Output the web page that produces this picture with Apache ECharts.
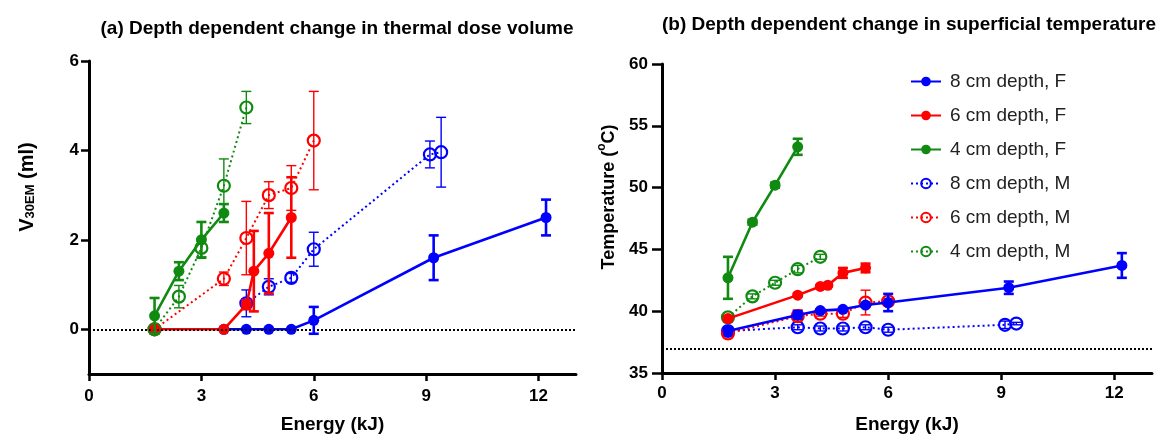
<!DOCTYPE html>
<html><head><meta charset="utf-8">
<script src="https://cdn.jsdelivr.net/npm/echarts@6/dist/echarts.min.js"></script>
<style>html,body{margin:0;padding:0;background:#fff}#c{width:1160px;height:439px}</style>
</head><body><div id="c"></div>
<script>
// ---------- Series names ----------
const names = ['8 cm depth, F', '6 cm depth, F', '4 cm depth, F', '8 cm depth, M', '6 cm depth, M', '4 cm depth, M'];

// ---------- Panel (a): V30EM (ml) vs Energy (kJ) ----------
const a8F_x = [3.6, 4.2, 4.8, 5.4, 6.0, 9.2, 12.2];
const a8F_y = [0, 0, 0, 0, 0.2, 1.6, 2.5];
const a8F_e = [0, 0, 0, 0, 0.3, 0.5, 0.4];
const a6F_x = [1.75, 3.6, 4.2, 4.4, 4.8, 5.4];
const a6F_y = [0, 0, 0.55, 1.3, 1.7, 2.5];
const a6F_e = [0, 0, 0.1, 0.9, 0.9, 0.9];
const a4F_x = [1.75, 2.4, 3.0, 3.6];
const a4F_y = [0.3, 1.3, 2.0, 2.6];
const a4F_e = [0.4, 0.2, 0.4, 0.2];
const a8M_x = [4.2, 4.8, 5.4, 6.0, 9.1, 9.4];
const a8M_y = [0.58, 0.95, 1.15, 1.79, 3.91, 3.96];
const a8M_e = [0.3, 0.18, 0.1, 0.38, 0.3, 0.78];
const a6M_x = [1.75, 3.6, 4.2, 4.8, 5.4, 6.0];
const a6M_y = [0, 1.13, 2.04, 3.0, 3.16, 4.22];
const a6M_e = [0, 0.15, 0.82, 0.3, 0.5, 1.1];
const a4M_x = [1.75, 2.4, 3.0, 3.6, 4.2];
const a4M_y = [0, 0.73, 1.82, 3.21, 4.96];
const a4M_e = [0.05, 0.25, 0.2, 0.6, 0.36];
const aRef = 0;            // dotted reference line (ml)
const aYTicks = [0, 2, 4, 6];

// ---------- Panel (b): Temperature (ºC) vs Energy (kJ) ----------
const b8F_x = [1.75, 3.6, 4.2, 4.8, 5.4, 6.0, 9.2, 12.2];
const b8F_y = [38.4, 39.7, 40.05, 40.15, 40.5, 40.7, 41.9, 43.7];
const b8F_e = [0.2, 0.3, 0.1, 0.1, 0.1, 0.7, 0.5, 1.0];
const b6F_x = [1.75, 3.6, 4.2, 4.4, 4.8, 5.4];
const b6F_y = [39.4, 41.3, 42.0, 42.1, 43.1, 43.5];
const b6F_e = [0.2, 0.1, 0.1, 0.1, 0.4, 0.35];
const b4F_x = [1.75, 2.4, 3.0, 3.6];
const b4F_y = [42.7, 47.2, 50.2, 53.3];
const b4F_e = [1.7, 0.2, 0.2, 0.65];
const b8M_x = [1.75, 3.6, 4.2, 4.8, 5.4, 6.0, 9.1, 9.4];
const b8M_y = [38.4, 38.7, 38.6, 38.6, 38.7, 38.5, 38.9, 39.0];
const b8M_e = [0.1, 0.2, 0.2, 0.2, 0.2, 0.2, 0.3, 0.1];
const b6M_x = [1.75, 3.6, 4.2, 4.8, 5.4, 6.0];
const b6M_y = [38.2, 39.6, 39.8, 39.8, 40.7, 40.8];
const b6M_e = [0.1, 0.5, 0.2, 0.3, 1.0, 0.2];
const b4M_x = [1.75, 2.4, 3.0, 3.6, 4.2];
const b4M_y = [39.5, 41.2, 42.3, 43.4, 44.4];
const b4M_e = [0.1, 0.2, 0.2, 0.3, 0.2];
const bRef = 37;           // dotted reference line (ºC)

const xMax = 13;

// ---------- styling ----------
const FONT = 'Liberation Sans, Arial, Helvetica, sans-serif';
const BLUE = '#0000ff', RED = '#ff0000', GREEN = '#118a11';
const colorOf = {'8': BLUE, '6': RED, '4': GREEN};

function lineSeries(name, xs, ys, idx, filled) {
  const c = colorOf[name[0]];
  return {
    type: 'line', name: name, xAxisIndex: idx, yAxisIndex: idx,
    data: xs.map((x, i) => [x, ys[i]]),
    symbol: 'circle', symbolSize: filled ? 11 : 12,
    itemStyle: filled ? {color: c} : {color: 'rgba(255,255,255,0)', borderColor: c, borderWidth: 2.2},
    lineStyle: {color: c, width: filled ? 2.6 : 2, type: filled ? 'solid' : [2, 3]},
    color: c, z: filled ? 4 : 3, animation: false
  };
}
function errSeries(name, xs, ys, es, idx, filled) {
  const c = colorOf[name[0]];
  const lw = filled ? 2.6 : 1.4;
  return {
    type: 'custom', name: name + ' (SD)', xAxisIndex: idx, yAxisIndex: idx,
    data: xs.map((x, i) => [x, ys[i], es[i]]),
    encode: {x: 0, y: 1}, silent: true, z: filled ? 5 : 3, animation: false,
    renderItem: function (params, api) {
      const x = api.value(0), y = api.value(1), e = api.value(2);
      if (!e) return {type: 'group', children: []};
      const t = api.coord([x, y + e]), b = api.coord([x, y - e]);
      const w = 5;
      const st = {stroke: c, lineWidth: lw};
      return {type: 'group', children: [
        {type: 'line', shape: {x1: t[0], y1: t[1], x2: b[0], y2: b[1]}, style: st},
        {type: 'line', shape: {x1: t[0] - w, y1: t[1], x2: t[0] + w, y2: t[1]}, style: st},
        {type: 'line', shape: {x1: b[0] - w, y1: b[1], x2: b[0] + w, y2: b[1]}, style: st}
      ]};
    }
  };
}
function refSeries(idx, val) {
  return {
    type: 'line', name: 'ref' + idx, xAxisIndex: idx, yAxisIndex: idx, data: [],
    markLine: {silent: true, symbol: 'none', label: {show: false},
      lineStyle: {color: '#000', type: [2, 2], width: 2}, data: [{yAxis: val}], animation: false}
  };
}

const panels = [
  [[a8F_x, a8F_y, a8F_e], [a6F_x, a6F_y, a6F_e], [a4F_x, a4F_y, a4F_e],
   [a8M_x, a8M_y, a8M_e], [a6M_x, a6M_y, a6M_e], [a4M_x, a4M_y, a4M_e]],
  [[b8F_x, b8F_y, b8F_e], [b6F_x, b6F_y, b6F_e], [b4F_x, b4F_y, b4F_e],
   [b8M_x, b8M_y, b8M_e], [b6M_x, b6M_y, b6M_e], [b4M_x, b4M_y, b4M_e]]
];

const series = [refSeries(0, aRef), refSeries(1, bRef)];
panels.forEach((p, idx) => {
  [3, 4, 5, 0, 1, 2].forEach(k => {
    series.push(lineSeries(names[k], p[k][0], p[k][1], idx, k < 3));
  });
  [3, 4, 5, 0, 1, 2].forEach(k => {
    series.push(errSeries(names[k], p[k][0], p[k][1], p[k][2], idx, k < 3));
  });
});

const axisLineStyle = {show: true, lineStyle: {color: '#000', width: 3}};
const labelStyle = {color: '#000', fontSize: 17, fontWeight: 'bold', fontFamily: FONT};

function xAxis(idx, margin) {
  return {
    type: 'value', gridIndex: idx, min: 0, max: xMax, interval: 3,
    axisLine: Object.assign({onZero: false}, axisLineStyle),
    axisTick: {show: true, length: 7, lineStyle: {color: '#000', width: 2.5}},
    axisLabel: Object.assign({margin: margin, showMaxLabel: false}, labelStyle),
    splitLine: {show: false},
    name: 'Energy (kJ)', nameLocation: 'middle', nameGap: idx === 0 ? 41 : 42,
    nameTextStyle: {color: '#000', fontSize: 19, fontWeight: 'bold', fontFamily: FONT}
  };
}

const option = {
  backgroundColor: '#fff',
  animation: false,
  title: [
    {text: '(a) Depth dependent change in thermal dose volume', left: 332, top: 14, textAlign: 'center',
     textStyle: {fontSize: 19, fontWeight: 'bold', color: '#000', fontFamily: FONT}},
    {text: '(b) Depth dependent change in superficial temperature', left: 904, top: 10, textAlign: 'center',
     textStyle: {fontSize: 19, fontWeight: 'bold', color: '#000', fontFamily: FONT}}
  ],
  grid: [
    {left: 89, right: 584, top: 61, bottom: 64},
    {left: 662, right: 8, top: 64, bottom: 60}
  ],
  xAxis: [xAxis(0, 14), xAxis(1, 12)],
  yAxis: [
    {type: 'value', gridIndex: 0, min: -1, max: 6,
     axisLine: Object.assign({onZero: false}, axisLineStyle),
     axisTick: {show: true, length: 8, lineStyle: {color: '#000', width: 2.5}, customValues: aYTicks},
     axisLabel: Object.assign({margin: 10, customValues: aYTicks}, labelStyle),
     splitLine: {show: false}},
    {type: 'value', gridIndex: 1, min: 35, max: 60, interval: 5,
     axisLine: Object.assign({onZero: false}, axisLineStyle),
     axisTick: {show: true, length: 10, lineStyle: {color: '#000', width: 2.5}},
     axisLabel: Object.assign({margin: 14}, labelStyle),
     splitLine: {show: false}}
  ],
  legend: {
    data: names, orient: 'vertical', left: 905, top: 67,
    itemWidth: 30, itemHeight: 12, itemGap: 15,
    textStyle: {fontSize: 19, color: '#222', fontFamily: FONT, padding: [0, 0, 0, 4]}
  },
  graphic: [
    {type: 'text', x: 25, y: 187, rotation: Math.PI / 2,
     style: {text: '{v|V}{s|30EM}{v| (ml)}', align: 'center', verticalAlign: 'middle',
       rich: {
         v: {fontSize: 20, fontWeight: 'bold', fontFamily: FONT, fill: '#000', lineHeight: 24, verticalAlign: 'bottom'},
         s: {fontSize: 13, fontWeight: 'bold', fontFamily: FONT, fill: '#000', verticalAlign: 'bottom', lineHeight: 14}
       }}},
    {type: 'text', x: 607, y: 197, rotation: Math.PI / 2,
     style: {text: '{t|Temperature (}{o|o}{t|C)}', align: 'center', verticalAlign: 'middle',
       rich: {
         t: {fontSize: 18, fontWeight: 'bold', fontFamily: FONT, fill: '#000', lineHeight: 22, verticalAlign: 'bottom'},
         o: {fontSize: 12, fontWeight: 'bold', fontFamily: FONT, fill: '#000', verticalAlign: 'top', lineHeight: 22}
       }}}
  ],
  series: series
};

const chart = echarts.init(document.getElementById('c'), null, {renderer: 'canvas'});
chart.setOption(option);
</script>
</body></html>
